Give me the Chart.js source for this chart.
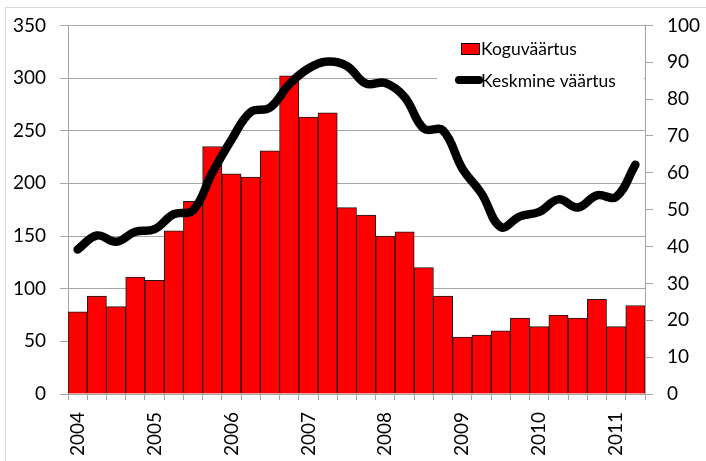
<html>
<head>
<style>
  body { margin: 0; background: #fff; }
  #frame { position: absolute; left: 5px; top: 7px; width: 900px; height: 700px; border: 1px solid #d9d9d9; }
  #chart { position: absolute; left: 0; top: 0; }
</style>
</head>
<body>
<div id="frame"></div>
<canvas id="chart" width="706" height="461"></canvas>

<script src="https://cdn.jsdelivr.net/npm/chart.js"></script>
<script>
// quarters 2004 I .. 2011 II
const quarters = [
  '2004 I', '2004 II', '2004 III', '2004 IV',
  '2005 I', '2005 II', '2005 III', '2005 IV',
  '2006 I', '2006 II', '2006 III', '2006 IV',
  '2007 I', '2007 II', '2007 III', '2007 IV',
  '2008 I', '2008 II', '2008 III', '2008 IV',
  '2009 I', '2009 II', '2009 III', '2009 IV',
  '2010 I', '2010 II', '2010 III', '2010 IV',
  '2011 I', '2011 II'
];
const yearLabels = [
  '2004', '', '', '', '2005', '', '', '', '2006', '', '', '',
  '2007', '', '', '', '2008', '', '', '', '2009', '', '', '',
  '2010', '', '', '', '2011', ''
];
// Koguväärtus (left axis)
const koguvaartus = [
  78, 93, 83, 111, 108, 155, 183, 235, 209, 206, 231, 302, 263, 267, 177,
  170, 150, 154, 120, 93, 54, 56, 60, 72, 64, 75, 72, 90, 64, 84
];
// Keskmine väärtus (right axis)
const keskmine = [
  39.2, 43, 41.3, 44, 44.7, 48.8, 49.8, 60, 69, 76.5, 77.7, 84, 88.3, 90.2, 89,
  84.2, 84.4, 80.6, 72, 71.5, 61.2, 54.4, 45.3, 48.2, 49.4, 52.8, 50.6, 53.9, 53.5, 62.2
];
const leftTicks = { min: 0, max: 350, step: 50 };
const rightTicks = { min: 0, max: 100, step: 10 };

const axisGray = '#a6a6a6';
const tickFont = { family: 'Lato', size: 19 };

// white legend box drawn inside the plot, over the gridlines
const insideLegend = {
  id: 'insideLegend',
  beforeDatasetsDraw(chart) {
    const c = chart.ctx;
    c.save();
    c.fillStyle = '#fff';
    c.fillRect(437, 28, chart.chartArea.right - 437 - 1, 72);
    c.restore();
  },
  afterDraw(chart) {
    const c = chart.ctx;
    c.save();
    c.font = '17.5px Lato';
    c.textBaseline = 'middle';
    c.fillStyle = '#ff0000';
    c.fillRect(461, 43, 18, 11);
    c.strokeStyle = '#000';
    c.lineWidth = 1;
    c.strokeRect(461.5, 43.5, 18, 11);
    c.fillStyle = '#000';
    c.fillText('Koguväärtus', 481, 49);
    c.beginPath();
    c.lineCap = 'round';
    c.lineWidth = 8;
    c.moveTo(459, 80);
    c.lineTo(479, 80);
    c.stroke();
    c.fillText('Keskmine väärtus', 481, 81);
    c.restore();
  }
};

new Chart(document.getElementById('chart').getContext('2d'), {
  data: {
    labels: quarters,
    datasets: [
      {
        type: 'line',
        label: 'Keskmine väärtus',
        data: keskmine,
        yAxisID: 'y2',
        borderColor: '#000',
        borderWidth: 8.5,
        borderCapStyle: 'round',
        borderJoinStyle: 'round',
        pointRadius: 0,
        tension: 0.4,
        order: 0
      },
      {
        type: 'bar',
        label: 'Koguväärtus',
        data: koguvaartus,
        yAxisID: 'y',
        backgroundColor: '#ff0000',
        borderColor: '#1a1a1a',
        borderWidth: 1,
        categoryPercentage: 1,
        barPercentage: 1,
        order: 1
      }
    ]
  },
  options: {
    responsive: false,
    animation: false,
    layout: { padding: { top: 25, left: 0, right: 0, bottom: 0 } },
    plugins: { legend: { display: false }, tooltip: { enabled: false } },
    scales: {
      x: {
        offset: true,
        afterFit: s => { s.height = 67; },
        grid: { offset: true, drawOnChartArea: false, drawTicks: true, tickLength: 6, color: axisGray },
        border: { color: axisGray },
        ticks: {
          autoSkip: false,
          maxRotation: 90,
          minRotation: 90,
          padding: 12,
          color: '#000',
          font: tickFont,
          callback: (v, i) => yearLabels[i]
        }
      },
      y: {
        position: 'left',
        min: leftTicks.min,
        max: leftTicks.max,
        afterFit: s => { s.width = 68; },
        grid: { color: axisGray, tickLength: 8 },
        border: { color: axisGray },
        ticks: { stepSize: leftTicks.step, padding: 14, color: '#000', font: tickFont }
      },
      y2: {
        position: 'right',
        min: rightTicks.min,
        max: rightTicks.max,
        afterFit: s => { s.width = 61; },
        grid: { drawOnChartArea: false, color: axisGray, tickLength: 8 },
        border: { color: axisGray },
        ticks: { stepSize: rightTicks.step, padding: 14, color: '#000', font: tickFont }
      }
    }
  },
  plugins: [insideLegend]
});
</script>
</body>
</html>
